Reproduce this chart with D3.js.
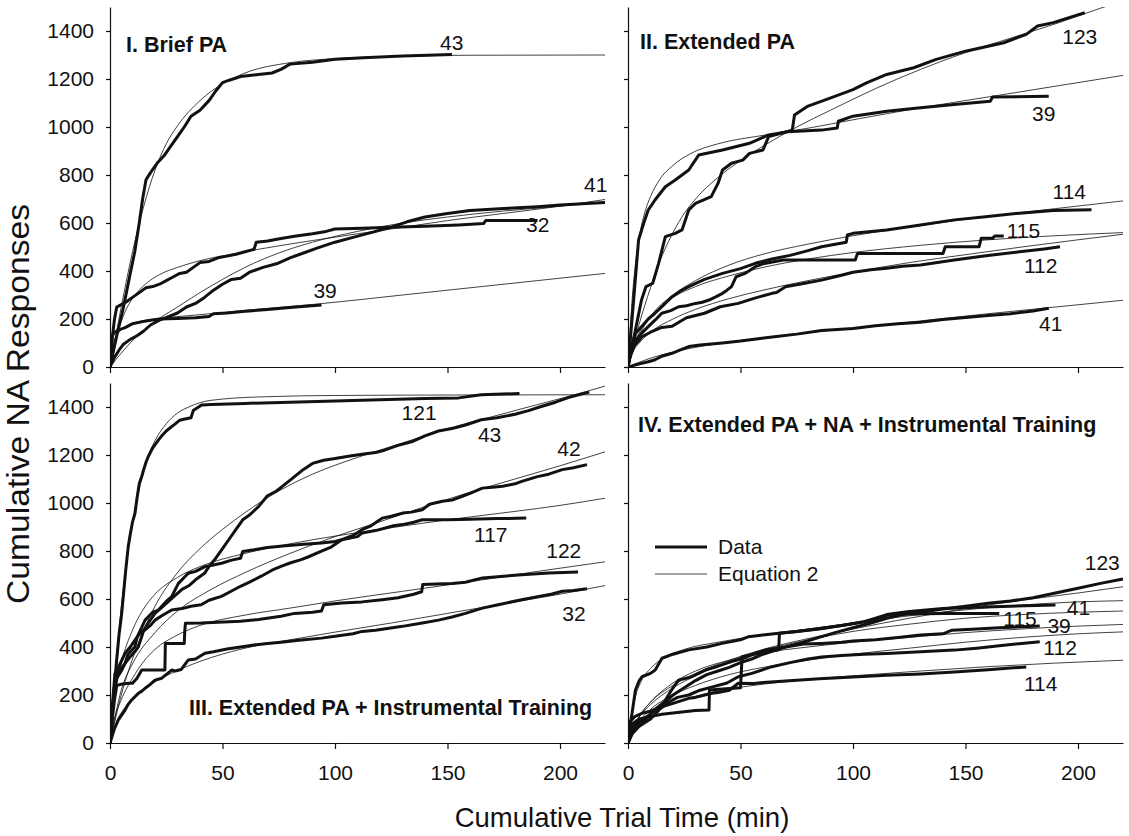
<!DOCTYPE html>
<html><head><meta charset="utf-8">
<script src="https://cdn.jsdelivr.net/npm/d3@7"></script>
<style>
body{margin:0;background:#fff;}
svg{display:block;font-family:"Liberation Sans",Arial,sans-serif;}
</style></head>
<body><svg id="c" width="1129" height="836"></svg>
<script>
// ---------- axis tick values ----------
const xTicks = [0, 50, 100, 150, 200];
const yTicks = [0, 200, 400, 600, 800, 1000, 1200, 1400];
const xDomain = [0, 220];
const yDomain = [0, 1500];

// ---------- Panel I: Brief PA ----------
const p1_43_data = [[0,0],[3,130],[6,250],[9,390],[11,480],[13,600],[14.5,700],[16,780],[18,810],[21,850],[24,880],[27,920],[30,960],[33,1000],[36,1045],[40,1070],[44,1110],[47,1150],[50,1185],[53,1195],[58,1210],[65,1218],[72,1225],[76,1240],[80,1262],[90,1270],[100,1282],[115,1290],[130,1296],[152,1302]];
const p1_43_eq = [[0,0],[5,250],[10,480],[15,670],[20,820],[25,930],[30,1005],[40,1110],[50,1180],[60,1225],[80,1268],[100,1285],[130,1295],[160,1299],[220,1300]];
const p1_41_data = [[0,0],[2,40],[4,70],[6,95],[9,115],[12,130],[15,150],[18,175],[22,195],[26,210],[30,225],[34,250],[38,265],[42,290],[46,320],[50,345],[54,365],[58,370],[62,395],[68,415],[74,430],[80,455],[86,475],[92,495],[100,520],[108,540],[116,560],[124,580],[132,605],[140,625],[150,640],[160,652],[175,660],[190,668],[200,675],[210,680],[220,685]];
const p1_41_eq = [[0,0],[10,110],[20,190],[30,250],[40,310],[50,365],[60,415],[75,475],[90,520],[110,565],[130,600],[150,625],[175,650],[200,670],[220,688]];
const p1_32_data = [[0,0],[1,120],[2,200],[3,250],[5,260],[7,270],[10,290],[13,310],[16,330],[19,335],[22,345],[25,360],[28,375],[31,390],[34,395],[37,415],[40,435],[44,440],[48,455],[52,462],[56,470],[60,480],[64,490],[65,520],[70,525],[76,535],[82,545],[90,555],[96,565],[100,575],[112,578],[125,582],[140,586],[155,592],[166,598],[167,610],[190,610]];
const p1_32_eq = [[0,0],[2,100],[5,190],[8,255],[12,310],[17,355],[22,385],[30,415],[40,443],[55,472],[70,497],[90,527],[110,555],[130,582],[150,610],[175,640],[200,670],[220,698]];
const p1_39_data = [[0,0],[0.5,80],[1,130],[2,145],[4,155],[7,165],[10,180],[14,188],[18,195],[22,200],[30,202],[38,205],[44,210],[46,222],[52,225],[60,232],[70,240],[80,248],[94,258]];
const p1_39_eq = [[0,0],[1,70],[2,110],[4,145],[7,170],[12,188],[20,200],[40,218],[60,236],[94,264],[130,300],[160,330],[190,360],[220,390]];

// ---------- Panel II: Extended PA ----------
const p2_123_data = [[0,0],[3,140],[6,279],[8,335],[11,349],[13.6,432],[16.6,543],[21,557],[24,571],[27,654],[30,682],[37,710],[40,765],[42,821],[46,849],[51,862],[54,890],[60,904],[62.5,960],[68,974],[73,987],[74,1050],[80,1087],[88,1114],[100,1156],[106,1184],[115,1219],[127,1247],[137,1282],[150,1316],[167,1351],[177,1386],[182,1421],[189,1435],[203,1476]];
const p2_123_eq = [[0,0],[5,180],[10,330],[15,460],[20,560],[25,640],[30,700],[40,790],[50,860],[60,920],[75,1000],[90,1070],[110,1160],[130,1240],[150,1310],[170,1370],[190,1430],[210,1495],[220,1525]];
const p2_39_data = [[0,0],[2.5,279],[4.7,529],[7,600],[9,654],[12,696],[16.6,751],[21,779],[27,821],[31.4,883],[42,904],[54,932],[62.5,967],[71,980],[86,987],[93,996],[93.5,1024],[100,1045],[115,1066],[130,1080],[145,1094],[161,1107],[162,1125],[187,1128]];
const p2_39_eq = [[0,0],[2,300],[4,480],[6,590],[8,660],[10,710],[14,780],[20,840],[28,890],[40,930],[60,965],[80,995],[100,1030],[130,1080],[160,1125],[190,1170],[220,1215]];
const p2_114_data = [[0,0],[1.5,90],[3.3,140],[6,168],[9,200],[12,224],[16,260],[19.6,293],[23,315],[27,335],[34,365],[42,390],[50,410],[56.6,432],[64,450],[72,465],[80,485],[86,501],[97,520],[97.5,550],[100,557],[115,571],[130,592],[145,613],[160,627],[174,641],[189,652],[206,655]];
const p2_114_eq = [[0,0],[5,130],[10,210],[20,300],[30,360],[45,425],[60,470],[80,512],[100,547],[130,590],[160,627],[190,660],[220,692]];
const p2_115_data = [[0,0],[1,60],[3.3,111],[6,140],[9,168],[12,195],[15,224],[19,235],[22.5,251],[26,255],[30,265],[33,270],[36,279],[39,292],[42,307],[44,320],[46,335],[48,376],[52,390],[56.6,418],[60,430],[69,446],[85,446],[101,446],[102,473],[120,473],[140,473],[141,501],[156,501],[157,536],[162,536],[163,546],[167,546]];
const p2_115_eq = [[0,0],[3,100],[6,160],[10,210],[15,255],[20,290],[30,335],[45,380],[60,415],[80,450],[100,477],[130,507],[160,530],[190,547],[220,560]];
const p2_112_data = [[0,0],[1,50],[3,90],[6.2,126],[10,145],[15,165],[19.6,170],[26,205],[34,224],[41,251],[49,265],[56,286],[64,307],[66,310],[70,334],[78,348],[86,362],[94,380],[100,395],[108,405],[115,411],[122,420],[130,425],[145,446],[160,465],[174,480],[185,492],[192,501]];
const p2_112_eq = [[0,0],[2,60],[5,100],[10,145],[20,200],[30,240],[45,285],[60,320],[80,360],[100,395],[125,435],[150,468],[175,500],[200,530],[220,553]];
const p2_41_data = [[0,0],[3,8],[6,15],[9,22],[12,30],[15,45],[19.6,57],[23,70],[27,85],[32,92],[42,100],[50,108],[57,117],[65,126],[75,137],[86,152],[100,160],[110,172],[120,180],[130,186],[140,198],[150,206],[160,215],[170,222],[180,233],[187,245]];
const p2_41_eq = [[0,0],[5,20],[10,37],[20,62],[30,82],[50,110],[75,138],[100,162],[130,192],[160,222],[190,250],[220,278]];

// ---------- Panel III: Extended PA + Instrumental Training ----------
const p3_121_data = [[0,0],[1,120],[2.2,262],[3,350],[4,450],[5.2,540],[6,620],[7,720],[8.1,818],[9,870],[10,920],[11.1,957],[12,1020],[13,1080],[14.1,1110],[15,1140],[16,1170],[17,1193],[19,1230],[21.5,1262],[23,1280],[25,1300],[27.4,1318],[29,1330],[31,1345],[33.3,1350],[36,1355],[37,1385],[40.7,1408],[45,1410],[60,1415],[80,1420],[100,1425],[120,1430],[140,1435],[155,1438],[165,1451],[182,1456]];
const p3_121_eq = [[0,0],[2,250],[4,470],[6,650],[8,800],[10,920],[13,1060],[16,1170],[20,1260],[25,1330],[30,1375],[35,1400],[40,1418],[50,1433],[70,1443],[100,1448],[150,1450],[220,1451]];
const p3_43_data = [[0,0],[1,120],[2.2,230],[3,270],[5,300],[6.7,332],[9,360],[11,380],[12.6,401],[15,470],[17,500],[20,540],[23,565],[26,590],[29,615],[32,640],[35,655],[38,680],[42,707],[44,735],[47,770],[50,810],[53,850],[56,890],[59,930],[62,950],[66,985],[70,1030],[74,1050],[78,1080],[82,1110],[86,1140],[90,1165],[95,1178],[100,1185],[106,1195],[112,1203],[118,1210],[122,1220],[128,1240],[134,1255],[140,1280],[146,1300],[152,1310],[158,1325],[165,1347],[172,1355],[180,1370],[186,1385],[192,1403],[198,1420],[204,1440],[210,1455],[213,1462]];
const p3_43_eq = [[0,0],[5,200],[10,350],[15,470],[20,570],[30,710],[40,810],[50,890],[60,960],[75,1050],[90,1120],[110,1190],[130,1250],[150,1310],[170,1360],[190,1410],[210,1460],[220,1487]];
const p3_42_data = [[0,0],[1,150],[2.2,290],[4,320],[6.7,374],[9,400],[11.1,429],[13.5,460],[15.6,471],[18,490],[20,512],[23,530],[27.4,554],[32,560],[36,570],[40.5,576],[44,595],[49.5,611],[53,628],[58,653],[62,670],[67,694],[72,720],[76,736],[80,750],[85,764],[88,775],[94,799],[98,815],[103,847],[108,865],[112,889],[116,905],[121,937],[125,945],[130,958],[134,962],[138.8,972],[142,995],[147.7,1007],[152,1012],[156.6,1028],[160,1040],[165.5,1062],[170,1066],[174.5,1070],[180,1080],[183,1090],[190,1110],[195,1120],[201,1139],[206,1147],[212,1160]];
const p3_42_eq = [[0,0],[5,220],[10,330],[20,460],[30,550],[45,640],[60,710],[80,790],[100,860],[120,922],[140,985],[160,1045],[180,1100],[200,1155],[220,1213]];
const p3_117_data = [[0,0],[1,130],[2.2,250],[4,300],[6.7,332],[8,370],[11.1,401],[12,440],[14,480],[15.6,512],[19,545],[21.5,554],[25,590],[27.4,610],[30.4,665],[34.8,707],[38,715],[42.2,735],[46,742],[50,750],[54,762],[58,770],[59,798],[64,805],[70,815],[78,822],[86,828],[94,833],[100,840],[103,847],[110,860],[112,875],[118,885],[122,895],[126,905],[130,910],[135,920],[138.8,930],[150,930],[160,932],[172,935],[185,937]];
const p3_117_eq = [[0,0],[2,180],[5,330],[10,470],[15,560],[20,620],[30,690],[40,735],[60,790],[80,830],[100,862],[125,897],[150,930],[180,965],[200,990],[220,1020]];
const p3_122_data = [[0,0],[1,100],[2,180],[3,240],[5,245],[8.1,249],[10,249],[12,270],[14.1,304],[17,304],[21,304],[24.4,304],[24.6,415],[28,415],[33,415],[33.2,460],[33.5,499],[40.5,500],[48,503],[58,507],[66,515],[76,528],[82,540],[90,545],[94,550],[95,576],[103,583],[112,588],[121,597],[128,605],[135,620],[138.5,630],[139,660],[145,662],[152,665],[158,670],[165.5,688],[175,695],[183,701],[195,708],[208,712]];
const p3_122_eq = [[0,0],[2,100],[5,180],[10,270],[15,340],[20,390],[30,450],[40,490],[60,533],[80,562],[100,592],[130,632],[160,672],[190,715],[220,755]];
const p3_32_data = [[0,0],[2,60],[3.7,96],[6.7,137],[8,160],[9.6,179],[12.6,207],[14,215],[15.6,228],[18,245],[20,262],[23,270],[27.4,304],[29,300],[31.6,306],[34.8,346],[38,350],[42.2,374],[46,380],[52,392],[58,400],[64,408],[70,415],[76,420],[84,428],[94,437],[100,445],[108,455],[112,465],[118,470],[124,478],[130,486],[138.8,500],[146,512],[152,525],[158,540],[165.5,562],[172,575],[183,597],[190,610],[196,620],[201,632],[206,635],[212,643]];
const p3_32_eq = [[0,0],[3,90],[6,140],[10,185],[15,225],[20,255],[30,302],[40,340],[60,395],[80,430],[100,462],[125,500],[150,540],[175,580],[200,620],[220,656]];

// ---------- Panel IV: Extended PA + NA + Instrumental Training ----------
const p4_123_data = [[0,0],[2,60],[5,90],[10,120],[15,160],[20,200],[25,230],[30,260],[35,285],[40,300],[45,315],[50,335],[55,350],[60,370],[65,385],[70,400],[78,420],[85,440],[92,460],[100,480],[108,500],[115,520],[122,535],[130,545],[140,558],[150,570],[160,582],[170,592],[180,605],[190,625],[200,645],[210,665],[220,683]];
const p4_123_eq = [[0,0],[5,110],[10,170],[20,240],[30,290],[45,345],[60,390],[80,435],[100,475],[125,520],[150,560],[175,595],[200,625],[220,651]];
const p4_41_data = [[0,0],[1,80],[1.8,124],[3.3,221],[5,260],[6.2,276],[10,290],[12.1,304],[15.1,353],[20,370],[27,388],[35,400],[41.8,415],[50,430],[53.6,443],[60,450],[67,457],[75,465],[86,478],[95,490],[105,505],[115,535],[125,548],[140,560],[155,566],[170,570],[190,575]];
const p4_41_eq = [[0,0],[3,180],[6,260],[10,310],[15,350],[25,390],[40,420],[60,450],[80,475],[100,500],[125,530],[150,555],[175,575],[200,588],[220,593]];
const p4_115_data = [[0,0],[2,80],[5,100],[10,110],[15,120],[20,125],[25,130],[30,135],[36,137],[36.2,221],[42,225],[50,230],[50.7,360],[56,370],[62,380],[67,388],[67.3,457],[75,465],[85,475],[95,490],[105,505],[112,520],[116,535],[125,538],[140,540],[155,540],[165,540]];
const p4_115_eq = [[0,0],[3,80],[6,120],[10,160],[20,230],[30,280],[45,340],[60,385],[80,430],[100,465],[125,495],[150,520],[175,535],[200,545],[220,550]];
const p4_39_data = [[0,0],[2,50],[4,75],[8,100],[12,140],[16,170],[20,230],[22.5,262],[28,275],[34.4,304],[40,320],[46,339],[52,355],[56.6,374],[62,390],[70,400],[78,412],[86,415],[95,420],[100,425],[110,430],[120,440],[130,450],[140,455],[144,470],[155,475],[165,480],[175,484],[183,487]];
const p4_39_eq = [[0,0],[5,110],[10,170],[20,250],[30,300],[45,345],[60,375],[80,400],[100,420],[125,440],[150,460],[175,475],[200,487],[220,494]];
const p4_112_data = [[0,0],[2,40],[5,70],[10,100],[14,140],[18,170],[22,190],[27,200],[32,220],[38,235],[44,250],[49,276],[55,290],[64,318],[72,335],[80,350],[86,358],[95,365],[105,370],[115,373],[130,380],[145,387],[155,395],[165,405],[175,415],[183,422]];
const p4_112_eq = [[0,0],[5,90],[10,140],[20,200],[30,240],[45,285],[60,315],[80,345],[100,370],[125,395],[150,420],[175,440],[200,455],[220,463]];
const p4_114_data = [[0,0],[1,90],[3,110],[6.2,124],[9,130],[12,140],[15,151],[20,165],[27,186],[30,190],[37.3,207],[40,210],[45,220],[49,249],[56,248],[60,252],[70,258],[85,268],[100,275],[115,282],[130,288],[145,296],[160,305],[170,312],[177,317]];
const p4_114_eq = [[0,0],[3,60],[6,90],[10,120],[20,165],[30,195],[45,225],[60,245],[80,265],[100,280],[130,300],[160,318],[190,333],[220,345]];

// ---------- subject labels (anchor in data units) ----------
const p1_labels = [["43",146.7,1321],["41",210.7,729],["32",184.9,564],["39",90.4,287]];
const p2_labels = [["123",193,1344],["39",179.6,1026],["114",188.7,699],["115",168.3,539],["112",176,393],["41",182.7,151]];
const p3_labels = [["121",129.6,1346],["43",163.5,1255],["42",198.8,1196],["117",161.8,839],["122",193.9,769],["32",201,510]];
const p4_labels = [["123",203,721],["41",195,533],["115",166.8,487],["39",186.4,460],["112",184.6,367],["114",176,218]];

const panelTitles = ["I. Brief PA", "II. Extended PA", "III. Extended PA + Instrumental Training", "IV. Extended PA + NA + Instrumental Training"];

// ---------- layout ----------
const svg = d3.select("#c");
const INK = "#111";
const W = 495, H = 360;
const panels = [
  {x0:110, yb:367, title:panelTitles[0], tx:126, ty:52, yLab:true,  xLab:false,
   series:[[p1_43_data,p1_43_eq],[p1_41_data,p1_41_eq],[p1_32_data,p1_32_eq],[p1_39_data,p1_39_eq]], labels:p1_labels},
  {x0:628, yb:367, title:panelTitles[1], tx:640, ty:49, yLab:false, xLab:false,
   series:[[p2_123_data,p2_123_eq],[p2_39_data,p2_39_eq],[p2_114_data,p2_114_eq],[p2_115_data,p2_115_eq],[p2_112_data,p2_112_eq],[p2_41_data,p2_41_eq]], labels:p2_labels},
  {x0:110, yb:743, title:panelTitles[2], tx:189, ty:715, yLab:true,  xLab:true,
   series:[[p3_121_data,p3_121_eq],[p3_43_data,p3_43_eq],[p3_42_data,p3_42_eq],[p3_117_data,p3_117_eq],[p3_122_data,p3_122_eq],[p3_32_data,p3_32_eq]], labels:p3_labels},
  {x0:628, yb:743, title:panelTitles[3], tx:638, ty:432, yLab:false, xLab:true,
   series:[[p4_123_data,p4_123_eq],[p4_41_data,p4_41_eq],[p4_115_data,p4_115_eq],[p4_39_data,p4_39_eq],[p4_112_data,p4_112_eq],[p4_114_data,p4_114_eq]], labels:p4_labels}
];

panels.forEach((p, i) => {
  const x = d3.scaleLinear().domain(xDomain).range([p.x0, p.x0 + W]);
  const y = d3.scaleLinear().domain(yDomain).range([p.yb, p.yb - H]);
  const g = svg.append("g");

  g.append("clipPath").attr("id", "clip" + i)
    .append("rect").attr("x", p.x0).attr("y", p.yb - H).attr("width", W + 2).attr("height", H);

  const line = d3.line().x(d => x(d[0])).y(d => y(d[1]));
  const smooth = d3.line().x(d => x(d[0])).y(d => y(d[1])).curve(d3.curveMonotoneX);
  const plot = g.append("g").attr("clip-path", "url(#clip" + i + ")");
  p.series.forEach(s => {
    plot.append("path").attr("d", smooth(s[1])).attr("fill", "none")
      .attr("stroke", INK).attr("stroke-width", 0.8);
  });
  p.series.forEach(s => {
    plot.append("path").attr("d", line(s[0])).attr("fill", "none")
      .attr("stroke", INK).attr("stroke-width", 3).attr("stroke-linejoin", "round").attr("stroke-linecap", "butt");
  });

  // axes
  const ya = d3.axisLeft(y).tickValues(yTicks).tickSizeInner(4).tickSizeOuter(0).tickPadding(12)
    .tickFormat(p.yLab ? d3.format("d") : () => "");
  const yg = g.append("g").attr("transform", `translate(${p.x0},0)`).call(ya);
  const xa = d3.axisBottom(x).tickValues(xTicks).tickSizeInner(6).tickSizeOuter(0).tickPadding(16)
    .tickFormat(p.xLab ? d3.format("d") : () => "");
  const xg = g.append("g").attr("transform", `translate(0,${p.yb})`).call(xa);
  [yg, xg].forEach(a => {
    a.selectAll("path,line").attr("stroke", INK).attr("stroke-width", 1.2);
    a.selectAll("text").attr("fill", INK).style("font-size", "21px")
      .style("font-family", '"Liberation Sans", Arial, sans-serif');
  });

  // subject labels
  g.selectAll("text.lab").data(p.labels).enter().append("text").attr("class", "lab")
    .attr("x", d => x(d[1])).attr("y", d => y(d[2]))
    .attr("fill", INK).style("font-size", "21px").text(d => d[0]);

  // panel title
  g.append("text").attr("x", p.tx).attr("y", p.ty).attr("fill", INK)
    .style("font-size", "21.5px").style("font-weight", "bold").text(p.title);
});

// legend (panel IV)
const legendItems = [["Data", 3], ["Equation 2", 0.8]];
const leg = svg.append("g");
legendItems.forEach((d, k) => {
  const yy = 547 + k * 27;
  leg.append("line").attr("x1", 655).attr("x2", 707).attr("y1", yy).attr("y2", yy)
    .attr("stroke", INK).attr("stroke-width", d[1]);
  leg.append("text").attr("x", 718).attr("y", yy + 7).attr("fill", INK)
    .style("font-size", "21px").text(d[0]);
});

// axis titles
svg.append("text").attr("x", 622).attr("y", 827).attr("text-anchor", "middle").attr("fill", INK)
  .style("font-size", "27.5px").text("Cumulative Trial Time (min)");
svg.append("text").attr("transform", "translate(29,404) rotate(-90)").attr("text-anchor", "middle")
  .attr("fill", INK).style("font-size", "32px")
  .attr("textLength", 400).attr("lengthAdjust", "spacingAndGlyphs").text("Cumulative NA Responses");
</script></body></html>
